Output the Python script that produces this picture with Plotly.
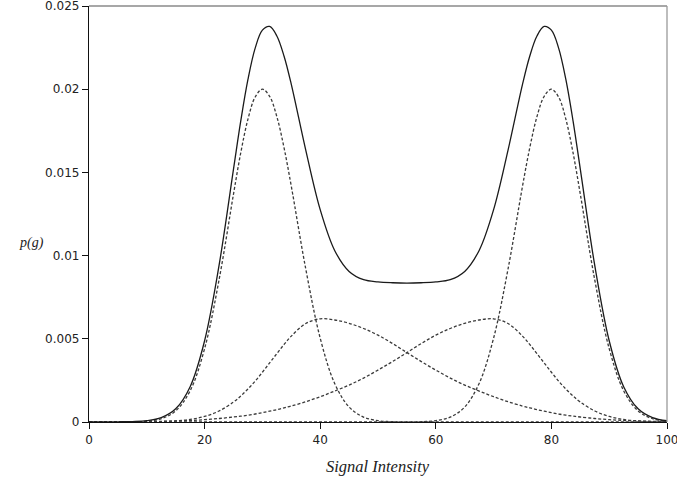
import plotly.graph_objects as go

# Signal intensity grid, denser around the two peaks
intensity = [
    0, 2.5, 5, 7.5, 10, 12.5, 15, 17.5, 20, 22.5, 25,
    26.25, 27.5, 28.75, 30, 31.25, 32.5, 33.75,
    35, 37.5, 40, 42.5, 45, 47.5, 50, 52.5, 55, 57.5, 60, 62.5, 65, 67.5, 70,
    72.5, 75,
    76.25, 77.5, 78.75, 80, 81.25, 82.5, 83.75,
    85, 87.5, 90, 92.5, 95, 97.5, 100,
]

# Narrow class centred near 30
narrow_low = [
    0, 0, 0.0000016, 0.0000094, 0.000047, 0.000195, 0.000666, 0.00188, 0.00441,
    0.00854, 0.0137,
    0.01617, 0.0182, 0.01953, 0.0200, 0.01957, 0.01835, 0.01647,
    0.01417, 0.0092, 0.00504, 0.00232, 0.0009, 0.000294, 0.00008, 0.0000186,
    0.0000036, 0, 0, 0, 0, 0, 0, 0, 0,
    0, 0, 0, 0, 0, 0, 0,
    0, 0, 0, 0, 0, 0, 0,
]

# Narrow class centred near 80
narrow_high = [
    0, 0, 0, 0, 0, 0, 0, 0, 0, 0, 0,
    0, 0, 0, 0, 0, 0, 0,
    0, 0, 0, 0, 0, 0, 0, 0, 0.0000036, 0.0000186, 0.00008, 0.000294, 0.0009,
    0.00232, 0.00504, 0.0092, 0.01417,
    0.01647, 0.01835, 0.01957, 0.0200, 0.01953, 0.0182, 0.01617,
    0.0137, 0.00854, 0.00441, 0.00188, 0.000666, 0.000195, 0.000047,
]

# Broad class centred near 40
broad_low = [
    0, 0, 0.000001, 0.000003, 0.0000087, 0.000025, 0.000065, 0.000154, 0.000334,
    0.00066, 0.0012,
    0.00156, 0.00198, 0.00246, 0.00299, 0.00355, 0.00411, 0.00466,
    0.00516, 0.00592, 0.0062, 0.00613, 0.00593, 0.00562, 0.00522, 0.00472,
    0.00417, 0.00363, 0.00312, 0.00264, 0.00222, 0.00186, 0.00152, 0.00122,
    0.00096,
    0.00085, 0.00074, 0.00065, 0.00056, 0.00048, 0.00041, 0.00035,
    0.0003, 0.00021, 0.00014, 0.00009, 0.00006, 0.00004, 0.00002,
]

# Broad class centred near 70
broad_high = [
    0.000005, 0.000007, 0.00001, 0.000015, 0.00002, 0.00004, 0.00006, 0.00009,
    0.00014, 0.00021, 0.0003,
    0.00035, 0.00041, 0.00048, 0.00056, 0.00065, 0.00074, 0.00085,
    0.00096, 0.00122, 0.00152, 0.00186, 0.00222, 0.00264, 0.00312, 0.00363,
    0.00417, 0.00472, 0.00522, 0.00562, 0.00593, 0.00613, 0.0062, 0.00592,
    0.00516,
    0.00466, 0.00411, 0.00355, 0.00299, 0.00246, 0.00198, 0.00156,
    0.0012, 0.00066, 0.000334, 0.000154, 0.000065, 0.000025, 0.0000087,
]

# Overall mixture density p(g)
mixture = [
    0.000005, 0.000007, 0.0000126, 0.0000274, 0.0000757, 0.00026, 0.000791,
    0.002124, 0.004884, 0.00941, 0.0152,
    0.01808, 0.02059, 0.02247, 0.02355, 0.02377, 0.0232, 0.02198,
    0.02029, 0.01634, 0.01276, 0.01031, 0.00905, 0.008554, 0.00842, 0.0083686,
    0.0083472, 0.0083686, 0.00842, 0.008554, 0.00905, 0.01031, 0.01276,
    0.01634, 0.02029,
    0.02198, 0.0232, 0.02377, 0.02355, 0.02247, 0.02059, 0.01808,
    0.0152, 0.00941, 0.004884, 0.002124, 0.000791, 0.00026, 0.0000757,
]

x_ticks = [0, 20, 40, 60, 80, 100]
y_ticks = [0, 0.005, 0.01, 0.015, 0.02, 0.025]
y_tick_text = ["0", "0.005", "0.01", "0.015", "0.02", "0.025"]

fig = go.Figure()

dash_style = dict(color="#3a3a3a", width=1.3, dash="3px,2px", shape="spline")
for comp in (narrow_low, broad_low, broad_high, narrow_high):
    fig.add_trace(go.Scatter(x=intensity, y=comp, mode="lines", line=dash_style,
                             hoverinfo="skip", showlegend=False))

fig.add_trace(go.Scatter(x=intensity, y=mixture, mode="lines",
                         line=dict(color="#1a1a1a", width=1.3, shape="spline"),
                         showlegend=False))

axis_font = dict(family="DejaVu Sans", size=12, color="#222222")
axis_common = dict(showgrid=False, zeroline=False, showline=True,
                   linecolor="#111111", linewidth=1.3, ticks="outside",
                   ticklen=6, tickcolor="#111111", tickwidth=1.3,
                   tickfont=axis_font, ticklabeloverflow="allow",
                   automargin=False)

fig.update_layout(
    width=677, height=481,
    margin=dict(l=89, r=10, t=6, b=59),
    paper_bgcolor="white", plot_bgcolor="white",
    xaxis=dict(range=[0, 100], tickvals=x_ticks, **axis_common),
    yaxis=dict(range=[0, 0.025], tickvals=y_ticks, ticktext=y_tick_text,
               **axis_common),
    shapes=[
        dict(type="line", xref="paper", yref="paper", x0=0, x1=1, y0=1, y1=1,
             line=dict(color="#8a8a8a", width=1.3)),
        dict(type="line", xref="paper", yref="paper", x0=1, x1=1, y0=0, y1=1,
             line=dict(color="#9a9a9a", width=1.3)),
    ],
    annotations=[
        dict(text="<i>p(g)</i>", xref="paper", yref="paper", x=-0.10, y=0.43,
             xanchor="center", yanchor="middle", showarrow=False,
             font=dict(family="Liberation Serif", size=14, color="#222222")),
        dict(text="<i>Signal Intensity</i>", xref="paper", yref="paper",
             x=0.5, y=-0.108, xanchor="center", yanchor="middle",
             showarrow=False,
             font=dict(family="Liberation Serif", size=16.5, color="#222222")),
    ],
)

fig.write_html("out.html")
